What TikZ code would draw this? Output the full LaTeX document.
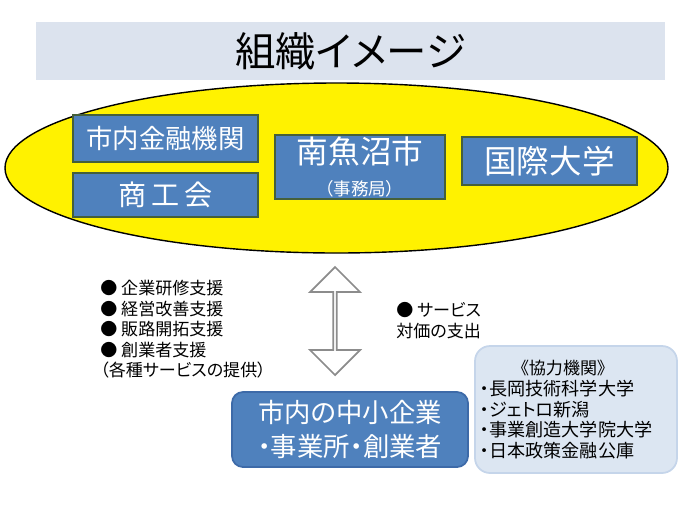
\documentclass[tikz,border=0pt]{standalone}
\usepackage{fontspec}
\setmainfont{Noto Sans CJK JP}[RawFeature={+palt}]
\usepackage{xcolor}
\definecolor{bandgray}{HTML}{DCE3EE}
\definecolor{unitblue}{HTML}{4F81BD}
\definecolor{unitedge}{HTML}{45603A}
\definecolor{firmedge}{HTML}{3D6AA8}
\definecolor{partnerfill}{HTML}{DCE6F2}
\definecolor{partneredge}{HTML}{C5D5EA}
\definecolor{arrowgray}{HTML}{8C8C8C}
\usepackage{tikz}
\usetikzlibrary{positioning,shapes.geometric,shapes.arrows}

\begin{document}
\begin{tikzpicture}[unit/.style={fill=unitblue, draw=unitedge, line width=1.2pt, text=white, align=center, inner sep=0pt},
  note/.style={anchor=north west, align=left, inner sep=0pt, font=\fontsize{9.7}{11.7}\selectfont}]
  \useasboundingbox (0,0) rectangle (14,-10.5);
  \node[fill=bandgray, minimum width=12.58cm, minimum height=1.16cm, font=\fontsize{23}{26}\selectfont] (title) at (7.01,-1.02) {組織イメージ};
  \node[ellipse, fill=yellow, draw=black, line width=0.8pt, minimum width=13.26cm, minimum height=3.4cm] (org) at (6.73,-3.36) {};
  \node[unit, minimum width=3.7cm, minimum height=0.94cm, font=\fontsize{15}{17}\selectfont] (bank) at (3.31,-2.77) {市内金融機関};
  \node[unit, minimum width=3.7cm, minimum height=0.88cm, font=\fontsize{16}{19}\selectfont] (chamber) at (3.31,-3.9) {商\,工\,会};
  \node[unit, minimum width=3.4cm, minimum height=1.28cm, font=\fontsize{18}{19}\selectfont] (city) at (7.2,-3.34) {南魚沼市\\[-1pt]{\fontsize{10}{11}\selectfont（事務局）}};
  \node[unit, minimum width=3.5cm, minimum height=0.96cm, font=\fontsize{18.5}{20}\selectfont] (univ) at (10.99,-3.22) {国際大学};
  \node[double arrow, draw=arrowgray, fill=white, line width=1pt, rotate=90, minimum height=2.16cm, minimum width=1.0cm,
    double arrow head extend=0.24cm, inner sep=0pt] (link) at (6.7,-6.42) {};
  \node[note] (services) at (2.0,-5.6) {● 企業研修支援\\● 経営改善支援\\● 販路開拓支援\\● 創業者支援\\（各種サービスの提供）};
  \node[note] (payment) at (7.92,-6.04) {● サービス\\対価の支出};
  \node[fill=unitblue, draw=firmedge, line width=1pt, rounded corners=0.22cm, text=white, align=center,
    minimum width=4.72cm, minimum height=1.5cm, font=\fontsize{15}{19.4}\selectfont] (firms) at (7.0,-8.59) {市内の中小企業\\・事業所・創業者};
  \node[fill=partnerfill, draw=partneredge, line width=1pt, rounded corners=0.3cm, minimum width=4.04cm, minimum height=2.54cm] (partners) at (11.52,-8.19) {};
  \node[font=\fontsize{9.7}{11.7}\selectfont] (partnerhead) at (11.26,-7.36) {《協力機関》};
  \node[note, font=\fontsize{10.3}{11.7}\selectfont] (partnerlist) at (9.6,-7.6) {・長岡技術科学大学\\・ジェトロ新潟\\・事業創造大学院大学\\・日本政策金融公庫};
\end{tikzpicture}
\end{document}
